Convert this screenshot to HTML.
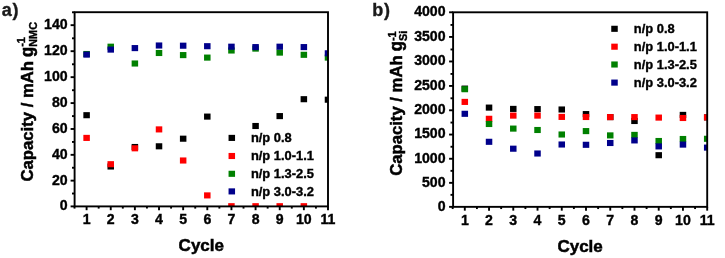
<!DOCTYPE html>
<html><head><meta charset="utf-8"><title>Capacity vs Cycle</title>
<style>
html,body{margin:0;padding:0;background:#fff;}
body{width:725px;height:258px;overflow:hidden;}
svg{display:block;}
text{font-family:"Liberation Sans",Arial,sans-serif;font-weight:bold;fill:#000;stroke:#000;stroke-width:0.38px;}
.t{font-size:14.1px;}
.l{font-size:16.7px;stroke-width:0.5px;}
.p{font-size:18px;fill:#1a1a1a;stroke:#1a1a1a;letter-spacing:0.8px;}
.s{font-size:10.9px;}
.g{font-size:12.9px;}
</style></head><body>
<svg width="725" height="258" viewBox="0 0 725 258">
<rect width="725" height="258" fill="#fff"/>

<clipPath id="ca"><rect x="74.6" y="12.2" width="253.4" height="194.20000000000002"/></clipPath>
<g clip-path="url(#ca)">
<rect x="83.35" y="112.15" width="6.5" height="6.1" fill="#000000"/>
<rect x="107.49" y="163.45" width="6.5" height="6.1" fill="#000000"/>
<rect x="131.63" y="143.95" width="6.5" height="6.1" fill="#000000"/>
<rect x="155.77" y="143.25" width="6.5" height="6.1" fill="#000000"/>
<rect x="179.91" y="135.65" width="6.5" height="6.1" fill="#000000"/>
<rect x="204.05" y="113.55" width="6.5" height="6.1" fill="#000000"/>
<rect x="252.33" y="122.95" width="6.5" height="6.1" fill="#000000"/>
<rect x="276.47" y="113.05" width="6.5" height="6.1" fill="#000000"/>
<rect x="300.61" y="96.15" width="6.5" height="6.1" fill="#000000"/>
<rect x="324.75" y="96.65" width="6.5" height="6.1" fill="#000000"/>
<rect x="83.35" y="134.85" width="6.5" height="6.1" fill="#ff0000"/>
<rect x="107.49" y="161.15" width="6.5" height="6.1" fill="#ff0000"/>
<rect x="131.63" y="145.25" width="6.5" height="6.1" fill="#ff0000"/>
<rect x="155.77" y="126.35" width="6.5" height="6.1" fill="#ff0000"/>
<rect x="179.91" y="157.45" width="6.5" height="6.1" fill="#ff0000"/>
<rect x="204.05" y="192.35" width="6.5" height="6.1" fill="#ff0000"/>
<rect x="228.19" y="203.15" width="6.5" height="6.1" fill="#ff0000"/>
<rect x="252.33" y="203.15" width="6.5" height="6.1" fill="#ff0000"/>
<rect x="276.47" y="203.15" width="6.5" height="6.1" fill="#ff0000"/>
<rect x="300.61" y="203.15" width="6.5" height="6.1" fill="#ff0000"/>
<rect x="83.35" y="50.95" width="6.5" height="6.1" fill="#008000"/>
<rect x="107.49" y="43.65" width="6.5" height="6.1" fill="#008000"/>
<rect x="131.63" y="60.45" width="6.5" height="6.1" fill="#008000"/>
<rect x="155.77" y="49.95" width="6.5" height="6.1" fill="#008000"/>
<rect x="179.91" y="52.05" width="6.5" height="6.1" fill="#008000"/>
<rect x="204.05" y="54.55" width="6.5" height="6.1" fill="#008000"/>
<rect x="228.19" y="47.45" width="6.5" height="6.1" fill="#008000"/>
<rect x="252.33" y="45.55" width="6.5" height="6.1" fill="#008000"/>
<rect x="276.47" y="49.55" width="6.5" height="6.1" fill="#008000"/>
<rect x="300.61" y="51.75" width="6.5" height="6.1" fill="#008000"/>
<rect x="324.75" y="54.55" width="6.5" height="6.1" fill="#008000"/>
<rect x="83.35" y="51.55" width="6.5" height="6.1" fill="#00008b"/>
<rect x="107.49" y="46.55" width="6.5" height="6.1" fill="#00008b"/>
<rect x="131.63" y="45.05" width="6.5" height="6.1" fill="#00008b"/>
<rect x="155.77" y="42.45" width="6.5" height="6.1" fill="#00008b"/>
<rect x="179.91" y="42.65" width="6.5" height="6.1" fill="#00008b"/>
<rect x="204.05" y="43.15" width="6.5" height="6.1" fill="#00008b"/>
<rect x="228.19" y="43.65" width="6.5" height="6.1" fill="#00008b"/>
<rect x="252.33" y="44.05" width="6.5" height="6.1" fill="#00008b"/>
<rect x="276.47" y="43.65" width="6.5" height="6.1" fill="#00008b"/>
<rect x="300.61" y="44.05" width="6.5" height="6.1" fill="#00008b"/>
<rect x="324.75" y="50.25" width="6.5" height="6.1" fill="#00008b"/>
</g>
<rect x="228.55" y="134.85" width="6.5" height="6.1" fill="#000000"/>
<text class="g" x="250.9" y="142.2">n/p 0.8</text>
<rect x="228.55" y="152.95" width="6.5" height="6.1" fill="#ff0000"/>
<text class="g" x="250.9" y="160.2">n/p 1.0-1.1</text>
<rect x="228.55" y="170.75" width="6.5" height="6.1" fill="#008000"/>
<text class="g" x="250.9" y="178.1">n/p 1.3-2.5</text>
<rect x="228.55" y="188.35" width="6.5" height="6.1" fill="#00008b"/>
<text class="g" x="250.9" y="195.8">n/p 3.0-3.2</text>
<rect x="74.6" y="12.2" width="253.4" height="194.20000000000002" fill="none" stroke="#000" stroke-width="1.9"/>
<line x1="70.6" y1="206.40" x2="74.6" y2="206.40" stroke="#000" stroke-width="1.9"/>
<text class="t" text-anchor="end" x="67.6" y="210.30">0</text>
<line x1="72.0" y1="193.52" x2="74.6" y2="193.52" stroke="#000" stroke-width="1.9"/>
<line x1="70.6" y1="180.64" x2="74.6" y2="180.64" stroke="#000" stroke-width="1.9"/>
<text class="t" text-anchor="end" x="67.6" y="184.54">20</text>
<line x1="72.0" y1="167.75" x2="74.6" y2="167.75" stroke="#000" stroke-width="1.9"/>
<line x1="70.6" y1="154.83" x2="74.6" y2="154.83" stroke="#000" stroke-width="1.9"/>
<text class="t" text-anchor="end" x="67.6" y="158.73">40</text>
<line x1="72.0" y1="141.95" x2="74.6" y2="141.95" stroke="#000" stroke-width="1.9"/>
<line x1="70.6" y1="128.98" x2="74.6" y2="128.98" stroke="#000" stroke-width="1.9"/>
<text class="t" text-anchor="end" x="67.6" y="132.88">60</text>
<line x1="72.0" y1="116.10" x2="74.6" y2="116.10" stroke="#000" stroke-width="1.9"/>
<line x1="70.6" y1="103.09" x2="74.6" y2="103.09" stroke="#000" stroke-width="1.9"/>
<text class="t" text-anchor="end" x="67.6" y="106.99">80</text>
<line x1="72.0" y1="90.21" x2="74.6" y2="90.21" stroke="#000" stroke-width="1.9"/>
<line x1="70.6" y1="77.16" x2="74.6" y2="77.16" stroke="#000" stroke-width="1.9"/>
<text class="t" text-anchor="end" x="67.6" y="81.06">100</text>
<line x1="72.0" y1="64.28" x2="74.6" y2="64.28" stroke="#000" stroke-width="1.9"/>
<line x1="70.6" y1="51.19" x2="74.6" y2="51.19" stroke="#000" stroke-width="1.9"/>
<text class="t" text-anchor="end" x="67.6" y="55.09">120</text>
<line x1="72.0" y1="38.31" x2="74.6" y2="38.31" stroke="#000" stroke-width="1.9"/>
<line x1="70.6" y1="25.17" x2="74.6" y2="25.17" stroke="#000" stroke-width="1.9"/>
<text class="t" text-anchor="end" x="67.6" y="29.07">140</text>
<line x1="72.0" y1="12.29" x2="74.6" y2="12.29" stroke="#000" stroke-width="1.9"/>
<line x1="74.53" y1="206.4" x2="74.53" y2="208.6" stroke="#000" stroke-width="1.9"/>
<line x1="86.60" y1="206.4" x2="86.60" y2="210.20000000000002" stroke="#000" stroke-width="1.9"/>
<text class="t" text-anchor="middle" x="86.60" y="223.60">1</text>
<line x1="98.67" y1="206.4" x2="98.67" y2="208.6" stroke="#000" stroke-width="1.9"/>
<line x1="110.74" y1="206.4" x2="110.74" y2="210.20000000000002" stroke="#000" stroke-width="1.9"/>
<text class="t" text-anchor="middle" x="110.74" y="223.60">2</text>
<line x1="122.81" y1="206.4" x2="122.81" y2="208.6" stroke="#000" stroke-width="1.9"/>
<line x1="134.88" y1="206.4" x2="134.88" y2="210.20000000000002" stroke="#000" stroke-width="1.9"/>
<text class="t" text-anchor="middle" x="134.88" y="223.60">3</text>
<line x1="146.95" y1="206.4" x2="146.95" y2="208.6" stroke="#000" stroke-width="1.9"/>
<line x1="159.02" y1="206.4" x2="159.02" y2="210.20000000000002" stroke="#000" stroke-width="1.9"/>
<text class="t" text-anchor="middle" x="159.02" y="223.60">4</text>
<line x1="171.09" y1="206.4" x2="171.09" y2="208.6" stroke="#000" stroke-width="1.9"/>
<line x1="183.16" y1="206.4" x2="183.16" y2="210.20000000000002" stroke="#000" stroke-width="1.9"/>
<text class="t" text-anchor="middle" x="183.16" y="223.60">5</text>
<line x1="195.23" y1="206.4" x2="195.23" y2="208.6" stroke="#000" stroke-width="1.9"/>
<line x1="207.30" y1="206.4" x2="207.30" y2="210.20000000000002" stroke="#000" stroke-width="1.9"/>
<text class="t" text-anchor="middle" x="207.30" y="223.60">6</text>
<line x1="219.37" y1="206.4" x2="219.37" y2="208.6" stroke="#000" stroke-width="1.9"/>
<line x1="231.44" y1="206.4" x2="231.44" y2="210.20000000000002" stroke="#000" stroke-width="1.9"/>
<text class="t" text-anchor="middle" x="231.44" y="223.60">7</text>
<line x1="243.51" y1="206.4" x2="243.51" y2="208.6" stroke="#000" stroke-width="1.9"/>
<line x1="255.58" y1="206.4" x2="255.58" y2="210.20000000000002" stroke="#000" stroke-width="1.9"/>
<text class="t" text-anchor="middle" x="255.58" y="223.60">8</text>
<line x1="267.65" y1="206.4" x2="267.65" y2="208.6" stroke="#000" stroke-width="1.9"/>
<line x1="279.72" y1="206.4" x2="279.72" y2="210.20000000000002" stroke="#000" stroke-width="1.9"/>
<text class="t" text-anchor="middle" x="279.72" y="223.60">9</text>
<line x1="291.79" y1="206.4" x2="291.79" y2="208.6" stroke="#000" stroke-width="1.9"/>
<line x1="303.86" y1="206.4" x2="303.86" y2="210.20000000000002" stroke="#000" stroke-width="1.9"/>
<text class="t" text-anchor="middle" x="303.86" y="223.60">10</text>
<line x1="315.93" y1="206.4" x2="315.93" y2="208.6" stroke="#000" stroke-width="1.9"/>
<line x1="328.00" y1="206.4" x2="328.00" y2="210.20000000000002" stroke="#000" stroke-width="1.9"/>
<text class="t" text-anchor="middle" x="328.00" y="223.60">11</text>
<text class="l" style="font-size:17px" text-anchor="middle" x="201.3" y="251.2">Cycle</text>
<text class="p" x="1.7" y="16.0">a)</text>
<text class="l" style="font-size:16.68px" transform="translate(33.0,181.5) rotate(-90)">Capacity / mAh</text>
<text class="l" transform="translate(33.0,56.90) rotate(-90) scale(1,1.12)">g</text>
<text class="s" transform="translate(25.00,46.80) rotate(-90)">-1</text>
<text class="s" transform="translate(36.70,46.80) rotate(-90)">NMC</text>
<clipPath id="cb"><rect x="453.1" y="12.3" width="254.10000000000002" height="194.54999999999998"/></clipPath>
<g clip-path="url(#cb)">
<rect x="461.55" y="85.55" width="6.5" height="6.1" fill="#000000"/>
<rect x="485.79" y="104.55" width="6.5" height="6.1" fill="#000000"/>
<rect x="510.03" y="105.85" width="6.5" height="6.1" fill="#000000"/>
<rect x="534.27" y="106.05" width="6.5" height="6.1" fill="#000000"/>
<rect x="558.51" y="106.45" width="6.5" height="6.1" fill="#000000"/>
<rect x="582.75" y="111.05" width="6.5" height="6.1" fill="#000000"/>
<rect x="606.99" y="114.05" width="6.5" height="6.1" fill="#000000"/>
<rect x="631.23" y="117.95" width="6.5" height="6.1" fill="#000000"/>
<rect x="655.47" y="152.15" width="6.5" height="6.1" fill="#000000"/>
<rect x="679.71" y="111.85" width="6.5" height="6.1" fill="#000000"/>
<rect x="703.95" y="114.35" width="6.5" height="6.1" fill="#000000"/>
<rect x="461.55" y="98.85" width="6.5" height="6.1" fill="#ff0000"/>
<rect x="485.79" y="115.75" width="6.5" height="6.1" fill="#ff0000"/>
<rect x="510.03" y="112.55" width="6.5" height="6.1" fill="#ff0000"/>
<rect x="534.27" y="112.55" width="6.5" height="6.1" fill="#ff0000"/>
<rect x="558.51" y="113.85" width="6.5" height="6.1" fill="#ff0000"/>
<rect x="582.75" y="113.95" width="6.5" height="6.1" fill="#ff0000"/>
<rect x="606.99" y="114.05" width="6.5" height="6.1" fill="#ff0000"/>
<rect x="631.23" y="114.05" width="6.5" height="6.1" fill="#ff0000"/>
<rect x="655.47" y="114.55" width="6.5" height="6.1" fill="#ff0000"/>
<rect x="679.71" y="114.95" width="6.5" height="6.1" fill="#ff0000"/>
<rect x="703.95" y="114.35" width="6.5" height="6.1" fill="#ff0000"/>
<rect x="461.55" y="86.15" width="6.5" height="6.1" fill="#008000"/>
<rect x="485.79" y="120.95" width="6.5" height="6.1" fill="#008000"/>
<rect x="510.03" y="125.55" width="6.5" height="6.1" fill="#008000"/>
<rect x="534.27" y="126.95" width="6.5" height="6.1" fill="#008000"/>
<rect x="558.51" y="131.45" width="6.5" height="6.1" fill="#008000"/>
<rect x="582.75" y="128.05" width="6.5" height="6.1" fill="#008000"/>
<rect x="606.99" y="132.35" width="6.5" height="6.1" fill="#008000"/>
<rect x="631.23" y="131.85" width="6.5" height="6.1" fill="#008000"/>
<rect x="655.47" y="137.95" width="6.5" height="6.1" fill="#008000"/>
<rect x="679.71" y="135.95" width="6.5" height="6.1" fill="#008000"/>
<rect x="703.95" y="135.75" width="6.5" height="6.1" fill="#008000"/>
<rect x="461.55" y="110.75" width="6.5" height="6.1" fill="#00008b"/>
<rect x="485.79" y="138.75" width="6.5" height="6.1" fill="#00008b"/>
<rect x="510.03" y="145.65" width="6.5" height="6.1" fill="#00008b"/>
<rect x="534.27" y="150.45" width="6.5" height="6.1" fill="#00008b"/>
<rect x="558.51" y="141.45" width="6.5" height="6.1" fill="#00008b"/>
<rect x="582.75" y="141.75" width="6.5" height="6.1" fill="#00008b"/>
<rect x="606.99" y="139.95" width="6.5" height="6.1" fill="#00008b"/>
<rect x="631.23" y="137.35" width="6.5" height="6.1" fill="#00008b"/>
<rect x="655.47" y="143.35" width="6.5" height="6.1" fill="#00008b"/>
<rect x="679.71" y="141.55" width="6.5" height="6.1" fill="#00008b"/>
<rect x="703.95" y="144.55" width="6.5" height="6.1" fill="#00008b"/>
</g>
<rect x="611.25" y="25.75" width="6.5" height="6.1" fill="#000000"/>
<text class="g" x="633.8" y="33.3">n/p 0.8</text>
<rect x="611.25" y="43.65" width="6.5" height="6.1" fill="#ff0000"/>
<text class="g" x="633.8" y="51.1">n/p 1.0-1.1</text>
<rect x="611.25" y="61.45" width="6.5" height="6.1" fill="#008000"/>
<text class="g" x="633.8" y="68.9">n/p 1.3-2.5</text>
<rect x="611.25" y="79.55" width="6.5" height="6.1" fill="#00008b"/>
<text class="g" x="633.8" y="86.8">n/p 3.0-3.2</text>
<rect x="453.1" y="12.3" width="254.10000000000002" height="194.54999999999998" fill="none" stroke="#000" stroke-width="1.9"/>
<line x1="449.1" y1="206.85" x2="453.1" y2="206.85" stroke="#000" stroke-width="1.9"/>
<text class="t" text-anchor="end" x="445.5" y="210.75">0</text>
<line x1="450.5" y1="194.85" x2="453.1" y2="194.85" stroke="#000" stroke-width="1.9"/>
<line x1="449.1" y1="182.84" x2="453.1" y2="182.84" stroke="#000" stroke-width="1.9"/>
<text class="t" text-anchor="end" x="445.5" y="186.75">500</text>
<line x1="450.5" y1="170.84" x2="453.1" y2="170.84" stroke="#000" stroke-width="1.9"/>
<line x1="449.1" y1="158.75" x2="453.1" y2="158.75" stroke="#000" stroke-width="1.9"/>
<text class="t" text-anchor="end" x="445.5" y="162.65">1000</text>
<line x1="450.5" y1="146.75" x2="453.1" y2="146.75" stroke="#000" stroke-width="1.9"/>
<line x1="449.1" y1="134.56" x2="453.1" y2="134.56" stroke="#000" stroke-width="1.9"/>
<text class="t" text-anchor="end" x="445.5" y="138.47">1500</text>
<line x1="450.5" y1="122.56" x2="453.1" y2="122.56" stroke="#000" stroke-width="1.9"/>
<line x1="449.1" y1="110.29" x2="453.1" y2="110.29" stroke="#000" stroke-width="1.9"/>
<text class="t" text-anchor="end" x="445.5" y="114.19">2000</text>
<line x1="450.5" y1="98.29" x2="453.1" y2="98.29" stroke="#000" stroke-width="1.9"/>
<line x1="449.1" y1="85.92" x2="453.1" y2="85.92" stroke="#000" stroke-width="1.9"/>
<text class="t" text-anchor="end" x="445.5" y="89.83">2500</text>
<line x1="450.5" y1="73.92" x2="453.1" y2="73.92" stroke="#000" stroke-width="1.9"/>
<line x1="449.1" y1="61.47" x2="453.1" y2="61.47" stroke="#000" stroke-width="1.9"/>
<text class="t" text-anchor="end" x="445.5" y="65.37">3000</text>
<line x1="450.5" y1="49.47" x2="453.1" y2="49.47" stroke="#000" stroke-width="1.9"/>
<line x1="449.1" y1="36.92" x2="453.1" y2="36.92" stroke="#000" stroke-width="1.9"/>
<text class="t" text-anchor="end" x="445.5" y="40.82">3500</text>
<line x1="450.5" y1="24.92" x2="453.1" y2="24.92" stroke="#000" stroke-width="1.9"/>
<line x1="449.1" y1="12.29" x2="453.1" y2="12.29" stroke="#000" stroke-width="1.9"/>
<text class="t" text-anchor="end" x="445.5" y="16.19">4000</text>
<line x1="452.68" y1="206.85" x2="452.68" y2="209.04999999999998" stroke="#000" stroke-width="1.9"/>
<line x1="464.80" y1="206.85" x2="464.80" y2="210.65" stroke="#000" stroke-width="1.9"/>
<text class="t" text-anchor="middle" x="464.80" y="224.85">1</text>
<line x1="476.92" y1="206.85" x2="476.92" y2="209.04999999999998" stroke="#000" stroke-width="1.9"/>
<line x1="489.04" y1="206.85" x2="489.04" y2="210.65" stroke="#000" stroke-width="1.9"/>
<text class="t" text-anchor="middle" x="489.04" y="224.85">2</text>
<line x1="501.16" y1="206.85" x2="501.16" y2="209.04999999999998" stroke="#000" stroke-width="1.9"/>
<line x1="513.28" y1="206.85" x2="513.28" y2="210.65" stroke="#000" stroke-width="1.9"/>
<text class="t" text-anchor="middle" x="513.28" y="224.85">3</text>
<line x1="525.40" y1="206.85" x2="525.40" y2="209.04999999999998" stroke="#000" stroke-width="1.9"/>
<line x1="537.52" y1="206.85" x2="537.52" y2="210.65" stroke="#000" stroke-width="1.9"/>
<text class="t" text-anchor="middle" x="537.52" y="224.85">4</text>
<line x1="549.64" y1="206.85" x2="549.64" y2="209.04999999999998" stroke="#000" stroke-width="1.9"/>
<line x1="561.76" y1="206.85" x2="561.76" y2="210.65" stroke="#000" stroke-width="1.9"/>
<text class="t" text-anchor="middle" x="561.76" y="224.85">5</text>
<line x1="573.88" y1="206.85" x2="573.88" y2="209.04999999999998" stroke="#000" stroke-width="1.9"/>
<line x1="586.00" y1="206.85" x2="586.00" y2="210.65" stroke="#000" stroke-width="1.9"/>
<text class="t" text-anchor="middle" x="586.00" y="224.85">6</text>
<line x1="598.12" y1="206.85" x2="598.12" y2="209.04999999999998" stroke="#000" stroke-width="1.9"/>
<line x1="610.24" y1="206.85" x2="610.24" y2="210.65" stroke="#000" stroke-width="1.9"/>
<text class="t" text-anchor="middle" x="610.24" y="224.85">7</text>
<line x1="622.36" y1="206.85" x2="622.36" y2="209.04999999999998" stroke="#000" stroke-width="1.9"/>
<line x1="634.48" y1="206.85" x2="634.48" y2="210.65" stroke="#000" stroke-width="1.9"/>
<text class="t" text-anchor="middle" x="634.48" y="224.85">8</text>
<line x1="646.60" y1="206.85" x2="646.60" y2="209.04999999999998" stroke="#000" stroke-width="1.9"/>
<line x1="658.72" y1="206.85" x2="658.72" y2="210.65" stroke="#000" stroke-width="1.9"/>
<text class="t" text-anchor="middle" x="658.72" y="224.85">9</text>
<line x1="670.84" y1="206.85" x2="670.84" y2="209.04999999999998" stroke="#000" stroke-width="1.9"/>
<line x1="682.96" y1="206.85" x2="682.96" y2="210.65" stroke="#000" stroke-width="1.9"/>
<text class="t" text-anchor="middle" x="682.96" y="224.85">10</text>
<line x1="695.08" y1="206.85" x2="695.08" y2="209.04999999999998" stroke="#000" stroke-width="1.9"/>
<line x1="707.20" y1="206.85" x2="707.20" y2="210.65" stroke="#000" stroke-width="1.9"/>
<text class="t" text-anchor="middle" x="707.20" y="224.85">11</text>
<text class="l" style="font-size:17px" text-anchor="middle" x="580.1" y="252.1">Cycle</text>
<text class="p" x="372.3" y="16.0">b)</text>
<text class="l" style="font-size:16.68px" transform="translate(402.4,175.8) rotate(-90)">Capacity / mAh</text>
<text class="l" transform="translate(402.4,51.20) rotate(-90) scale(1,1.12)">g</text>
<text class="s" transform="translate(396.00,41.10) rotate(-90)">-1</text>
<text class="s" transform="translate(407.20,41.10) rotate(-90)">Si</text>
</svg></body></html>
